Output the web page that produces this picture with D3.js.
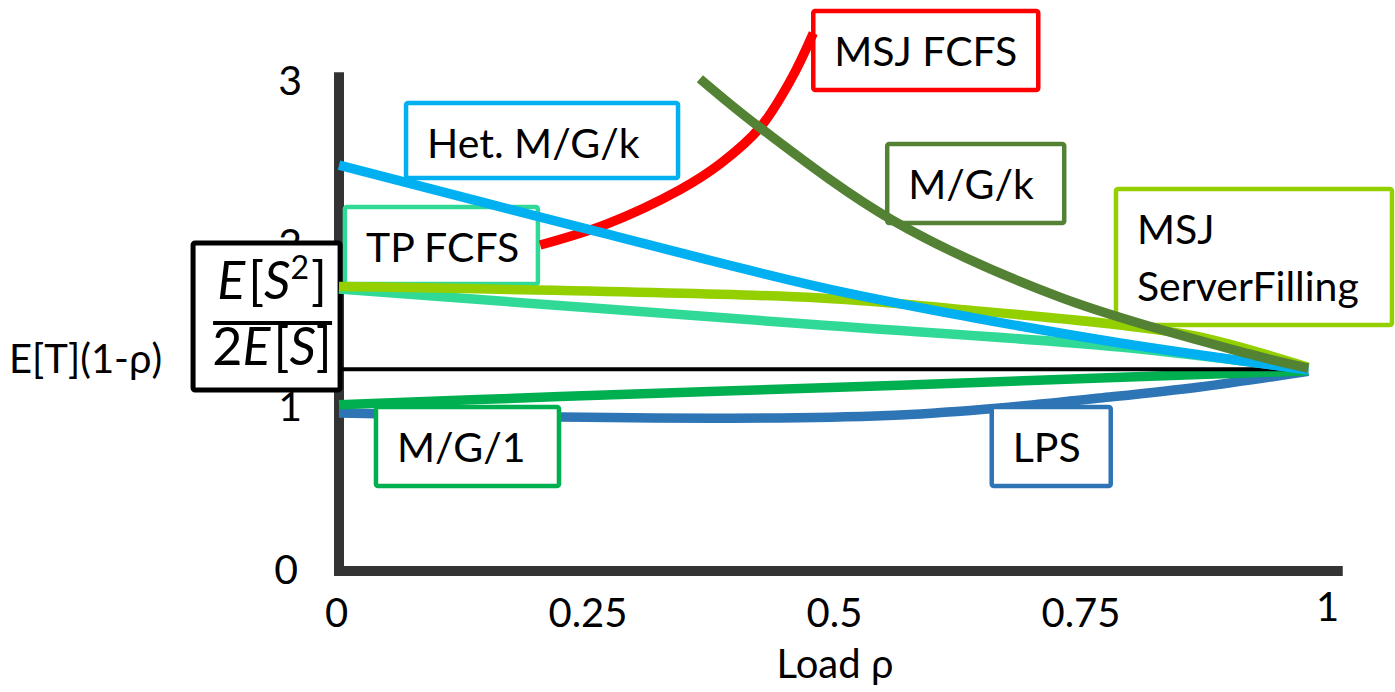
<!DOCTYPE html>
<html>
<head>
<meta charset="utf-8">
<script src="https://cdn.jsdelivr.net/npm/d3@7"></script>
<style>
  html, body { margin: 0; padding: 0; background: #fff; }
  svg { display: block; }
  text { font-family: Lato, "Open Sans", sans-serif; fill: #000; }
</style>
</head>
<body>
<svg id="chart" width="1395" height="692"></svg>
<script>
// ---- axis ticks and titles ----
const xTicks = [0, 0.25, 0.5, 0.75, 1];
const yTicks = [0, 1, 2, 3];
const xTitle = "Load ρ";
const yTitle = "E[T](1-ρ)";

// ---- normalised response time E[T](1-ρ) against load ρ, one list per policy ----
const lps        = [[0, 0.97], [0.224, 0.945], [0.447, 0.939], [0.569, 0.957], [0.670, 1.00], [0.772, 1.061], [0.873, 1.129], [0.983, 1.225]];
const mg1        = [[0, 1.02], [0.224, 1.07], [0.569, 1.14], [0.772, 1.184], [0.983, 1.228]];
const reference  = [[0, 1.237], [0.983, 1.237]];            // E[S^2] / 2E[S]
const hetMGk     = [[0, 2.49], [0.250, 2.10], [0.488, 1.742], [0.640, 1.558], [0.792, 1.399], [0.983, 1.233]];
const tpFcfs     = [[0, 1.73], [0.488, 1.509], [0.792, 1.374], [0.983, 1.236]];
const msjSF      = [[0, 1.745], [0.488, 1.675], [0.640, 1.60], [0.792, 1.509], [0.873, 1.436], [0.983, 1.25]];
const msjFcfs    = [[0.204, 2.00], [0.272, 2.13], [0.346, 2.34], [0.387, 2.50], [0.427, 2.72], [0.457, 3.00], [0.481, 3.30]];
const mgk        = [[0.366, 3.02], [0.427, 2.72], [0.562, 2.15], [0.731, 1.68], [0.924, 1.33], [0.983, 1.245]];

const W = 1395, H = 692;
const svg = d3.select("#chart");
svg.append("rect").attr("width", W).attr("height", H).attr("fill", "#fff");

const x = d3.scaleLinear().domain([0, 1]).range([339, 1325]);
const y = d3.scaleLinear().domain([0, 3]).range([571, 82]);

const line = d3.line()
  .x(d => x(d[0]))
  .y(d => y(d[1]))
  .curve(d3.curveCatmullRom.alpha(0.5));

// ---- axes ----
const axisColor = "#333333";
svg.append("line")
  .attr("x1", x(0)).attr("x2", x(0))
  .attr("y1", y(3.06)).attr("y2", y(0) + 5)
  .attr("stroke", axisColor).attr("stroke-width", 10);
svg.append("line")
  .attr("x1", x(0) - 5).attr("x2", x(1.018))
  .attr("y1", y(0)).attr("y2", y(0))
  .attr("stroke", axisColor).attr("stroke-width", 10);

const xAxis = svg.append("g")
  .attr("transform", `translate(0,${y(0)})`)
  .call(d3.axisBottom(x).tickValues(xTicks).tickFormat(d => String(d)).tickSize(0).tickPadding(28));
xAxis.select(".domain").remove();
xAxis.selectAll("text")
  .attr("font-family", "Lato, sans-serif")
  .attr("font-size", 40)
  .attr("fill", "#000")
  .attr("dx", (d) => d === 0 ? -3 : 2)
  .attr("dy", (d) => d === 1 ? "0.55em" : "0.71em");

const yAxis = svg.append("g")
  .attr("transform", `translate(${x(0)},0)`)
  .call(d3.axisLeft(y).tickValues(yTicks).tickFormat(d => String(d)).tickSize(0).tickPadding(37));
yAxis.select(".domain").remove();
yAxis.selectAll("text")
  .attr("font-family", "Lato, sans-serif")
  .attr("font-size", 41)
  .attr("fill", "#000")
  .attr("dx", (d) => d === 0 ? -4 : 0)
  .attr("dy", "0.3em");

svg.append("text")
  .attr("x", x(0.5) + 3)
  .attr("y", 678)
  .attr("text-anchor", "middle")
  .attr("font-size", 40)
  .text(xTitle);

svg.append("text")
  .attr("x", 9)
  .attr("y", 373)
  .attr("font-size", 40)
  .text(yTitle);

// ---- curves drawn underneath the callouts ----
const lowerSeries = [
  { data: lps,       color: "#2E75B6", width: 9.5 },
  { data: mg1,       color: "#00B050", width: 9.5 },
  { data: reference, color: "#000000", width: 4 }
];
// ---- curves drawn over the callouts ----
const upperSeries = [
  { data: msjFcfs, color: "#FF0000", width: 9.5 },
  { data: tpFcfs,  color: "#30DA96", width: 9.5 },
  { data: msjSF,   color: "#94D000", width: 9.5 },
  { data: hetMGk,  color: "#00B0F0", width: 9.5 },
  { data: mgk,     color: "#548235", width: 9.5 }
];

function drawSeries(list) {
  svg.append("g").selectAll("path")
    .data(list)
    .join("path")
    .attr("d", d => line(d.data))
    .attr("fill", "none")
    .attr("stroke", d => d.color)
    .attr("stroke-width", d => d.width)
    .attr("stroke-linecap", "butt");
}

drawSeries(lowerSeries);

// ---- callout boxes: anchored at (ρ, value) of the top-left corner ----
const callouts = [
  { lines: ["MSJ FCFS"],               color: "#FF0000", rho: 0.481, val: 3.436, w: 225, h: 79 },
  { lines: ["Het. M/G/k"],             color: "#00B0F0", rho: 0.068, val: 2.871, w: 272, h: 75 },
  { lines: ["TP FCFS"],                color: "#30DA96", rho: 0.006, val: 2.233, w: 193, h: 77 },
  { lines: ["M/G/k"],                  color: "#548235", rho: 0.556, val: 2.620, w: 177, h: 79 },
  { lines: ["MSJ", "ServerFilling"],   color: "#94D000", rho: 0.788, val: 2.344, w: 276, h: 136 },
  { lines: ["M/G/1"],                  color: "#00B050", rho: 0.0375, val: 1.006, w: 183, h: 79 },
  { lines: ["LPS"],                    color: "#2E75B6", rho: 0.662, val: 1.006, w: 119, h: 79 }
];

const boxes = svg.append("g").selectAll("g")
  .data(callouts)
  .join("g")
  .attr("transform", d => `translate(${x(d.rho)},${y(d.val)})`);

boxes.append("rect")
  .attr("width", d => d.w)
  .attr("height", d => d.h)
  .attr("rx", 2)
  .attr("fill", "#fff")
  .attr("stroke", d => d.color)
  .attr("stroke-width", 4.5);

boxes.each(function (d) {
  const t = d3.select(this).append("text")
    .attr("font-size", 41);
  d.lines.forEach((s, i) => {
    t.append("tspan")
      .attr("x", 21)
      .attr("y", 55 + i * 57)
      .text(s);
  });
});

// ---- formula callout for the reference level E[S^2]/2E[S] ----
const fx = x(-0.148), fy = y(2.012), fw = 147, fh = 147;
const formula = svg.append("g").attr("transform", `translate(${fx},${fy})`);
formula.append("rect")
  .attr("width", fw).attr("height", fh)
  .attr("rx", 2)
  .attr("fill", "#fff")
  .attr("stroke", "#000")
  .attr("stroke-width", 5);

const serif = "'Liberation Serif', 'DejaVu Serif', serif";
const num = formula.append("text")
  .attr("x", 79).attr("y", 56)
  .attr("text-anchor", "middle")
  .attr("font-family", serif)
  .attr("font-size", 52);
num.append("tspan").attr("font-style", "italic").text("E");
num.append("tspan").attr("dx", 3).text("[");
num.append("tspan").attr("font-style", "italic").text("S");
num.append("tspan").attr("dy", -20).attr("font-size", 32).text("2");
num.append("tspan").attr("dy", 20).attr("dx", 2).text("]");

formula.append("line")
  .attr("x1", 20).attr("x2", 139)
  .attr("y1", 80).attr("y2", 80)
  .attr("stroke", "#000").attr("stroke-width", 4);

const den = formula.append("text")
  .attr("x", 79).attr("y", 122)
  .attr("text-anchor", "middle")
  .attr("font-family", serif)
  .attr("font-size", 52);
den.append("tspan").text("2");
den.append("tspan").attr("font-style", "italic").text("E");
den.append("tspan").attr("dx", 3).text("[");
den.append("tspan").attr("font-style", "italic").text("S");
den.append("tspan").text("]");

drawSeries(upperSeries);
</script>
</body>
</html>
